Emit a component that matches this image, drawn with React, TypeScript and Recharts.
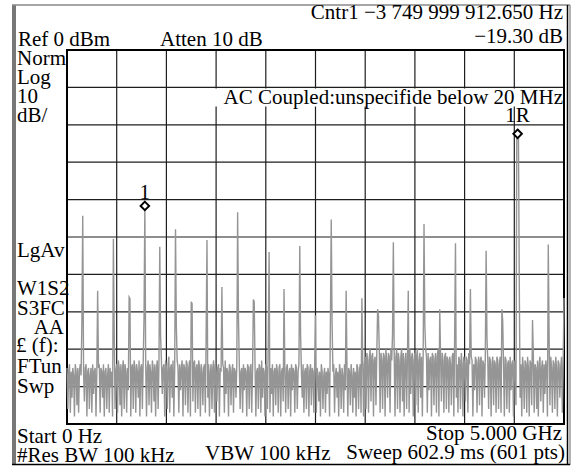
import React from "react";
import {
  ComposedChart,
  Line,
  Scatter,
  XAxis,
  YAxis,
  CartesianGrid,
  ReferenceArea,
} from "recharts";

// Sweep definition (from the screen annotations)
const START_MHZ = 0;
const STOP_MHZ = 5000;
const POINTS = 601;

const freqTicks = [0, 500, 1000, 1500, 2000, 2500, 3000, 3500, 4000, 4500, 5000];
const levelTicks = [-100, -90, -80, -70, -60, -50, -40, -30, -20, -10, 0];

// Trace noise floor, dBm (points 0..199)
const noiseA = [
  -85, -96, -86, -84, -97, -86, -93, -85, -87, -98, -84, -86, -95, -85, -97, -86, -84, -87, -98, -85,
  -86, -94, -85, -84, -98, -86, -85, -96, -87, -85, -97, -84, -92, -86, -85, -98, -86, -95, -85, -84,
  -97, -85, -86, -93, -84, -98, -86, -85, -96, -87, -84, -97, -85, -90, -86, -98, -85, -84, -96, -86,
  -84, -97, -83, -85, -95, -84, -98, -85, -83, -96, -84, -86, -97, -85, -91, -84, -83, -98, -85, -84,
  -96, -83, -85, -97, -84, -86, -93, -83, -98, -85, -84, -96, -83, -85, -97, -84, -98, -85, -83, -95,
  -84, -86, -97, -83, -85, -94, -84, -98, -85, -83, -96, -84, -85, -97, -83, -92, -85, -84, -98, -83,
  -85, -96, -84, -82, -97, -85, -84, -93, -83, -98, -85, -84, -96, -83, -85, -97, -84, -91, -85, -83,
  -98, -84, -85, -95, -83, -84, -97, -85, -83, -98, -84, -86, -94, -84, -83, -97, -85, -84, -96, -83,
  -85, -98, -84, -86, -95, -85, -84, -97, -83, -85, -93, -84, -98, -86, -84, -96, -85, -83, -97, -84,
  -86, -94, -85, -84, -98, -85, -86, -96, -84, -85, -97, -83, -92, -85, -86, -98, -84, -85, -95, -86,
];
// points 200..399
const noiseB = [
  -84, -97, -85, -86, -93, -84, -98, -85, -84, -96, -86, -85, -97, -84, -91, -85, -86, -98, -84, -85,
  -96, -85, -84, -97, -86, -85, -94, -84, -98, -86, -85, -96, -84, -85, -97, -83, -93, -85, -86, -98,
  -84, -85, -96, -86, -84, -97, -85, -92, -84, -98, -86, -85, -95, -84, -86, -97, -85, -84, -98, -86,
  -85, -94, -84, -86, -97, -85, -84, -96, -86, -85, -98, -84, -91, -85, -86, -97, -84, -85, -96, -86,
  -84, -98, -85, -86, -93, -84, -97, -86, -85, -96, -84, -85, -98, -86, -84, -95, -85, -86, -97, -84,
  -86, -97, -85, -87, -94, -86, -98, -84, -86, -96, -87, -85, -97, -86, -92, -85, -87, -98, -86, -85,
  -96, -86, -84, -97, -87, -85, -93, -86, -98, -84, -86, -96, -85, -87, -97, -84, -91, -86, -85, -98,
  -85, -86, -95, -84, -87, -97, -85, -93, -86, -98, -84, -85, -96, -86, -84, -97, -85, -83, -98, -84,
  -82, -96, -81, -83, -97, -82, -80, -94, -82, -81, -98, -83, -82, -95, -81, -92, -82, -80, -97, -81,
  -83, -96, -81, -82, -98, -80, -83, -93, -81, -82, -97, -80, -83, -95, -82, -81, -98, -82, -80, -96,
];
// points 400..600
const noiseC = [
  -81, -83, -97, -82, -80, -94, -81, -98, -83, -81, -96, -82, -83, -97, -80, -92, -82, -81, -98, -83,
  -81, -95, -82, -80, -97, -83, -81, -93, -82, -98, -81, -83, -96, -80, -82, -97, -81, -91, -83, -82,
  -98, -81, -82, -95, -83, -81, -97, -82, -80, -98, -83, -82, -94, -81, -83, -97, -82, -81, -96, -82,
  -83, -97, -82, -84, -95, -82, -81, -98, -83, -82, -93, -84, -97, -82, -83, -96, -81, -84, -98, -82,
  -84, -94, -82, -83, -97, -81, -84, -96, -82, -83, -98, -84, -91, -82, -83, -97, -84, -82, -95, -83,
  -82, -98, -83, -84, -93, -82, -97, -84, -83, -96, -82, -83, -98, -84, -82, -95, -83, -84, -97, -82,
  -83, -96, -84, -82, -97, -83, -92, -84, -98, -82, -83, -96, -84, -83, -97, -82, -91, -84, -83, -98,
  -84, -83, -95, -82, -84, -97, -83, -93, -84, -98, -82, -85, -96, -83, -84, -97, -82, -85, -98, -83,
  -84, -95, -83, -82, -97, -84, -85, -96, -83, -98, -84, -82, -94, -85, -83, -97, -84, -92, -83, -85,
  -98, -83, -84, -95, -82, -85, -97, -83, -84, -96, -82, -85, -98, -83, -84, -93, -85, -82, -97, -84,
  -83,
];

// Harmonic comb lines (every 156.25 MHz): trace point and peak level, dBm
const spikeIndex = [19, 37, 56, 75, 94, 112, 131, 150, 169, 187, 206, 225, 244, 262, 281, 300, 319, 337, 356, 375, 394, 412, 431, 450, 469, 487, 506, 525, 544, 562, 581, 600];
const spikeLevel = [-44.3, -64.4, -50.5, -66.1, -41.7, -52.6, -47.9, -67.3, -50.8, -63.4, -43.4, -66.7, -54, -63.9, -52.4, -70.9, -45.3, -64.4, -66.4, -69.3, -51.4, -64.4, -46.5, -69.3, -51.7, -63.9, -53.7, -69.3, -22.4, -72.2, -52, -66.3];
// Neighbouring points lifted by the same lines
const shoulderIndex = [18, 57, 76, 93, 113, 132, 151, 168, 207, 226, 243, 282, 318, 320, 376, 393, 432, 468, 507, 526, 543, 545, 546, 582];
const shoulderLevel = [-72.2, -75.3, -66.5, -71.6, -76.5, -74, -67.8, -75.6, -71.8, -67.3, -77.1, -76.2, -72.9, -72.6, -71, -76, -73.5, -76, -77.1, -72.4, -22.7, -22.6, -62, -76.2];

// Markers
const markerNames = ["1", "1R"];
const markerIndex = [94, 544];

const trace: number[] = [...noiseA, ...noiseB, ...noiseC];
spikeIndex.forEach((ix, n) => {
  trace[ix] = spikeLevel[n];
});
shoulderIndex.forEach((ix, n) => {
  trace[ix] = shoulderLevel[n];
});

const stepMHz = (STOP_MHZ - START_MHZ) / (POINTS - 1);
const data = trace.map((v, i) => ({ f: START_MHZ + i * stepMHz, v }));
const markerData = markerNames.map((name, n) => ({
  name,
  f: data[markerIndex[n]].f,
  v: data[markerIndex[n]].v,
}));

const FONT = "'Liberation Serif', 'Times New Roman', serif";

const MarkerShape = (props: any) => {
  const { cx, cy, payload } = props;
  if (cx == null || cy == null) return null;
  const r = 4.3;
  const lift = payload && payload.name === "1R" ? 11.5 : 6.5;
  return (
    <g>
      <path
        d={`M${cx},${cy - r} L${cx + r},${cy} L${cx},${cy + r} L${cx - r},${cy} Z`}
        fill="#fff"
        stroke="#000"
        strokeWidth={1.9}
      />
      <text
        x={cx}
        y={cy - lift}
        textAnchor="middle"
        fontFamily={FONT}
        fontSize={21}
        fill="#000"
      >
        {payload ? payload.name : ""}
      </text>
    </g>
  );
};

type T = { t: string; x: number; y: number; a?: "start" | "end" | "middle" };
const texts: T[] = [
  { t: "Cntr1 \u22123 749 999 912.650 Hz", x: 563, y: 18.5, a: "end" },
  { t: "\u221219.30 dB", x: 563, y: 43, a: "end" },
  { t: "Ref 0 dBm", x: 18, y: 45.5 },
  { t: "Atten 10 dB", x: 160, y: 45.5 },
  { t: "Norm", x: 17, y: 65 },
  { t: "Log", x: 17, y: 84 },
  { t: "10", x: 17, y: 103 },
  { t: "dB/", x: 17, y: 122 },
  { t: "LgAv", x: 17, y: 256.5 },
  { t: "W1S2", x: 17, y: 295 },
  { t: "S3FC", x: 17, y: 314.5 },
  { t: "AA", x: 64, y: 333.5, a: "end" },
  { t: "\u00a3 (f):", x: 16, y: 352 },
  { t: "FTun", x: 17, y: 373 },
  { t: "Swp", x: 17, y: 393 },
  { t: "Start 0 Hz", x: 17, y: 443 },
  { t: "Stop 5.000 GHz", x: 562, y: 440, a: "end" },
  { t: "#Res BW 100 kHz", x: 17, y: 461.5 },
  { t: "VBW 100 kHz", x: 205, y: 460 },
  { t: "Sweep 602.9 ms (601 pts)", x: 565, y: 459, a: "end" },
];

export default function App() {
  return (
    <div style={{ position: "absolute", left: 0, top: 0, width: 572, height: 468, background: "#fff" }}>
      <ComposedChart
        width={572}
        height={468}
        data={data}
        margin={{ top: 50, right: 8, bottom: 44, left: 67 }}
      >
        <XAxis
          dataKey="f"
          type="number"
          domain={[START_MHZ, STOP_MHZ]}
          ticks={freqTicks}
          interval={0}
          hide
        />
        <YAxis type="number" domain={[-100, 0]} ticks={levelTicks} interval={0} allowDataOverflow hide />
        <CartesianGrid stroke="#1e1e1e" strokeWidth={1.2} />
        <ReferenceArea
          x1={START_MHZ}
          x2={STOP_MHZ}
          y1={-100}
          y2={0}
          fill="none"
          stroke="#000"
          strokeWidth={2}
          ifOverflow="visible"
        />
        <Line
          dataKey="v"
          type="linear"
          stroke="#959595"
          strokeWidth={1.4}
          dot={false}
          activeDot={false}
          isAnimationActive={false}
        />
        <Scatter data={markerData} dataKey="v" shape={MarkerShape} isAnimationActive={false} />
      </ComposedChart>
      <svg
        width={572}
        height={468}
        style={{ position: "absolute", left: 0, top: 0, pointerEvents: "none" }}
      >
        <rect x={12} y={5} width={4} height={460} fill="#777" />
        <line x1={12} y1={5} x2={570} y2={5} stroke="#888" strokeWidth={1.5} />
        <line x1={567.5} y1={5} x2={567.5} y2={465} stroke="#000" strokeWidth={1.5} />
        <line x1={570} y1={5} x2={570} y2={465} stroke="#999" strokeWidth={1.5} />
        <line x1={12} y1={464.5} x2={570} y2={464.5} stroke="#000" strokeWidth={1.5} />
        <rect x={215} y={88.5} width={348} height={18} fill="#fff" />
        {texts.map((d, i) => (
          <text
            key={i}
            x={d.x}
            y={d.y}
            textAnchor={d.a || "start"}
            fontFamily={FONT}
            fontSize={21}
            fill="#000"
          >
            {d.t}
          </text>
        ))}
        <text x={563} y={104} textAnchor="end" fontFamily={FONT} fontSize={21} fill="#000">
          AC Coupled:unspecifide below 20 MHz
        </text>
      </svg>
    </div>
  );
}
